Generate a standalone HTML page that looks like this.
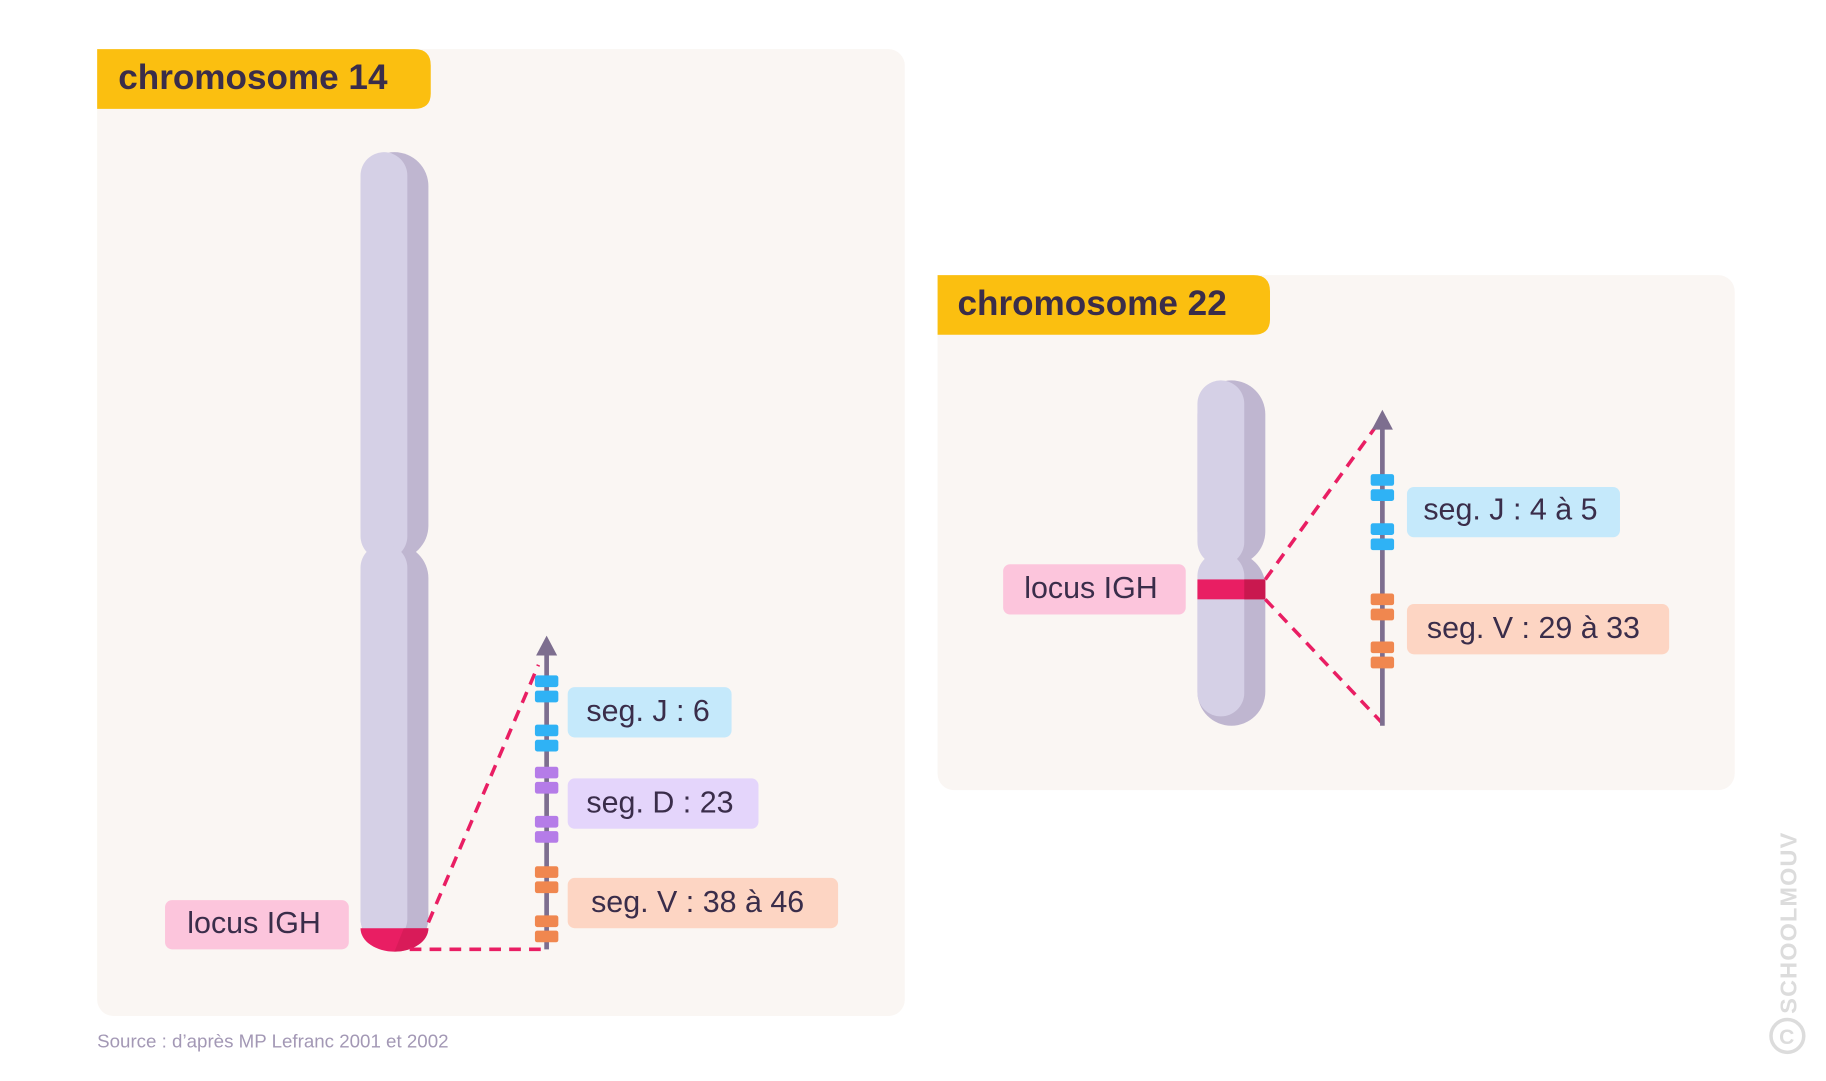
<!DOCTYPE html>
<html><head><meta charset="utf-8"><style>
html,body{margin:0;padding:0;background:#fff;}
svg{display:block}
text{font-family:"Liberation Sans",sans-serif;}
</style></head><body>
<svg width="1826" height="1081" viewBox="0 0 1560 923.5" preserveAspectRatio="none" xmlns="http://www.w3.org/2000/svg">
<!-- panel 1 -->
<rect x="83" y="42" width="690" height="826" rx="14" fill="#faf6f3"/>
<path d="M83 42 H354 Q368 42 368 56 V80 Q368 93 354 93 H83 Z" fill="#fbbf10"/>
<text x="101" y="76" font-size="30" font-weight="bold" fill="#3a2d4a">chromosome 14</text>
<!-- chrom 14 -->
<rect x="308" y="130" width="58" height="348" rx="29" fill="#bfb6d0"/>
<rect x="308" y="465" width="58" height="348" rx="29" fill="#bfb6d0"/>
<rect x="308" y="130" width="40" height="348" rx="20" fill="#d5d0e6"/>
<rect x="308" y="465" width="40" height="340" rx="20" fill="#d5d0e6"/>
<path d="M308 793 H366 A29 20 0 0 1 308 793 Z" fill="#e91e63"/>
<path d="M345 793 H366 A29 20 0 0 1 337 813 Z" fill="#c9184f" opacity="0.5"/>
<rect x="141" y="769" width="157" height="42" rx="6" fill="#fcc5dc"/>
<text x="160" y="797" font-size="26" fill="#3a2d4a">locus IGH</text>
<line x1="366" y1="788" x2="460" y2="568" stroke="#e91e63" stroke-width="3" stroke-dasharray="10 7"/>
<line x1="350" y1="811" x2="467" y2="811" stroke="#e91e63" stroke-width="3" stroke-dasharray="10 7"/>
<line x1="467" y1="811" x2="467" y2="556" stroke="#7d6e8f" stroke-width="4"/>
<path d="M458 560 L467 543 L476 560 Z" fill="#7d6e8f"/>
<g fill="#2fb2f5"><rect x="457" y="577" width="20" height="10" rx="2"/><rect x="457" y="590" width="20" height="10" rx="2"/><rect x="457" y="619" width="20" height="10" rx="2"/><rect x="457" y="632" width="20" height="10" rx="2"/></g>
<g fill="#b57ce8"><rect x="457" y="655" width="20" height="10" rx="2"/><rect x="457" y="668" width="20" height="10" rx="2"/><rect x="457" y="697" width="20" height="10" rx="2"/><rect x="457" y="710" width="20" height="10" rx="2"/></g>
<g fill="#f0874f"><rect x="457" y="740" width="20" height="10" rx="2"/><rect x="457" y="753" width="20" height="10" rx="2"/><rect x="457" y="782" width="20" height="10" rx="2"/><rect x="457" y="795" width="20" height="10" rx="2"/></g>
<rect x="485" y="587" width="140" height="43" rx="6" fill="#c5e9fb"/>
<text x="501" y="616" font-size="26" fill="#3a2d4a">seg. J : 6</text>
<rect x="485" y="665" width="163" height="43" rx="6" fill="#e4d5fb"/>
<text x="501" y="694" font-size="26" fill="#3a2d4a">seg. D : 23</text>
<rect x="485" y="750" width="231" height="43" rx="6" fill="#fdd5c3"/>
<text x="505" y="779" font-size="26" fill="#3a2d4a">seg. V : 38 à 46</text>
<text x="83" y="895" font-size="16" fill="#a398b5">Source : d’après MP Lefranc 2001 et 2002</text>
<!-- panel 2 -->
<rect x="801" y="235" width="681" height="440" rx="14" fill="#faf6f3"/>
<path d="M801 235 H1071 Q1085 235 1085 249 V273 Q1085 286 1071 286 H801 Z" fill="#fbbf10"/>
<text x="818" y="269" font-size="30" font-weight="bold" fill="#3a2d4a">chromosome 22</text>
<rect x="1023" y="325" width="58" height="158" rx="29" fill="#bfb6d0"/>
<rect x="1023" y="472" width="58" height="148" rx="29" fill="#bfb6d0"/>
<rect x="1023" y="325" width="40" height="158" rx="20" fill="#d5d0e6"/>
<rect x="1023" y="472" width="40" height="140" rx="20" fill="#d5d0e6"/>
<rect x="1023" y="495" width="58" height="17" fill="#e91e63"/>
<rect x="1063" y="495" width="18" height="17" fill="#c9184f"/>
<rect x="857" y="482" width="156" height="43" rx="6" fill="#fcc5dc"/>
<text x="875" y="511" font-size="26" fill="#3a2d4a">locus IGH</text>
<line x1="1081" y1="495" x2="1175" y2="365" stroke="#e91e63" stroke-width="3" stroke-dasharray="10 7"/>
<line x1="1081" y1="512" x2="1183" y2="620" stroke="#e91e63" stroke-width="3" stroke-dasharray="10 7"/>
<line x1="1181" y1="620" x2="1181" y2="362" stroke="#7d6e8f" stroke-width="4"/>
<path d="M1172 367 L1181 350 L1190 367 Z" fill="#7d6e8f"/>
<g fill="#2fb2f5"><rect x="1171" y="405" width="20" height="10" rx="2"/><rect x="1171" y="418" width="20" height="10" rx="2"/><rect x="1171" y="447" width="20" height="10" rx="2"/><rect x="1171" y="460" width="20" height="10" rx="2"/></g>
<g fill="#f0874f"><rect x="1171" y="507" width="20" height="10" rx="2"/><rect x="1171" y="520" width="20" height="10" rx="2"/><rect x="1171" y="548" width="20" height="10" rx="2"/><rect x="1171" y="561" width="20" height="10" rx="2"/></g>
<rect x="1202" y="416" width="182" height="43" rx="6" fill="#c5e9fb"/>
<text x="1216" y="444" font-size="26" fill="#3a2d4a">seg. J : 4 à 5</text>
<rect x="1202" y="516" width="224" height="43" rx="6" fill="#fdd5c3"/>
<text x="1219" y="545" font-size="26" fill="#3a2d4a">seg. V : 29 à 33</text>
<!-- watermark -->
<text transform="translate(1535,866) rotate(-90)" font-size="20" font-weight="bold" fill="#dcdcdc" letter-spacing="1">SCHOOLMOUV</text>
<circle cx="1527" cy="885" r="14" fill="none" stroke="#dcdcdc" stroke-width="3"/>
<text x="1520" y="892" font-size="18" font-weight="bold" fill="#dcdcdc">C</text>
</svg>
</body></html>
